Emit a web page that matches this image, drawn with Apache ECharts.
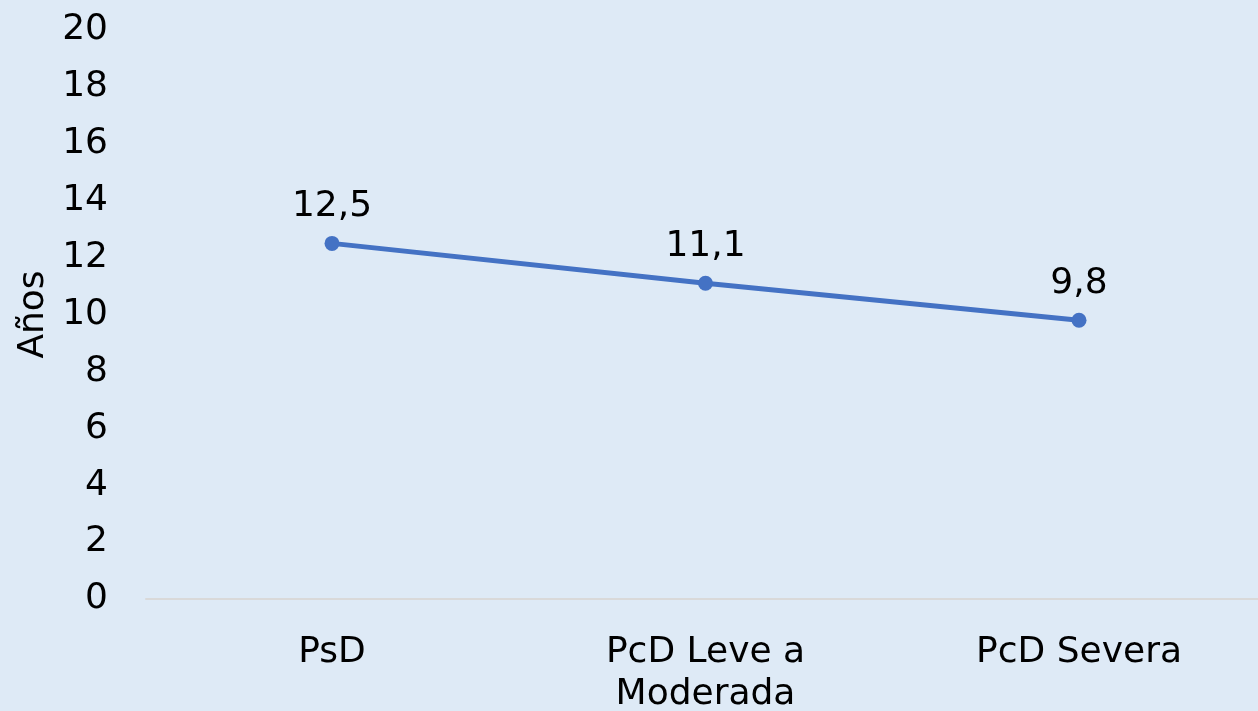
<!DOCTYPE html>
<html>
<head>
<meta charset="utf-8">
<script src="https://cdn.jsdelivr.net/npm/echarts@6/dist/echarts.min.js"></script>
<style>
html,body{margin:0;padding:0;background:#DEEAF6;}
#chart{width:1258px;height:711px;}
</style>
</head>
<body>
<div id="chart"></div>
<script>
const categories = ['PsD', 'PcD Leve a\nModerada', 'PcD Severa'];
const values = [12.5, 11.1, 9.8];
const yTicks = {min: 0, max: 20, interval: 2};
const yName = 'Años';

const chart = echarts.init(document.getElementById('chart'));
const font = 'DejaVu Sans, Verdana, sans-serif';
chart.setOption({
  backgroundColor: '#DEEAF6',
  animation: false,
  grid: [
    {left: 332, right: 179, top: 30, bottom: 112, containLabel: false, outerBoundsMode: 'none'},
    {left: 146, right: 0, top: 30, bottom: 112, containLabel: false, outerBoundsMode: 'none'}
  ],
  xAxis: [{
    type: 'category',
    gridIndex: 0,
    data: categories,
    boundaryGap: false,
    axisLine: {show: false},
    axisTick: {show: false},
    axisLabel: {color: '#000', fontFamily: font, fontSize: 36, margin: 33, lineHeight: 42}
  }, {
    type: 'value',
    gridIndex: 1,
    min: 0, max: 1,
    axisLine: {show: true, lineStyle: {color: '#D9D9D9', width: 2}},
    axisTick: {show: false},
    axisLabel: {show: false},
    splitLine: {show: false}
  }],
  yAxis: [{
    type: 'value',
    gridIndex: 0,
    min: yTicks.min, max: yTicks.max, interval: yTicks.interval,
    name: yName,
    nameLocation: 'middle',
    nameGap: 273,
    nameTextStyle: {color: '#000', fontFamily: font, fontSize: 36},
    splitLine: {show: false},
    axisLine: {show: false},
    axisTick: {show: false},
    axisLabel: {color: '#000', fontFamily: font, fontSize: 36, margin: 224, padding: [12, 0, 0, 0]}
  }, {
    type: 'value',
    gridIndex: 1,
    min: 0, max: 1,
    show: false
  }],
  series: [{
    type: 'line',
    xAxisIndex: 0,
    yAxisIndex: 0,
    data: values,
    symbol: 'circle',
    symbolSize: 15,
    lineStyle: {color: '#4472C4', width: 5},
    itemStyle: {color: '#4472C4'},
    label: {
      show: true, position: 'top', distance: 11,
      color: '#000', fontFamily: font, fontSize: 36,
      formatter: p => String(p.value).replace('.', ',')
    }
  }]
});
</script>
</body>
</html>
